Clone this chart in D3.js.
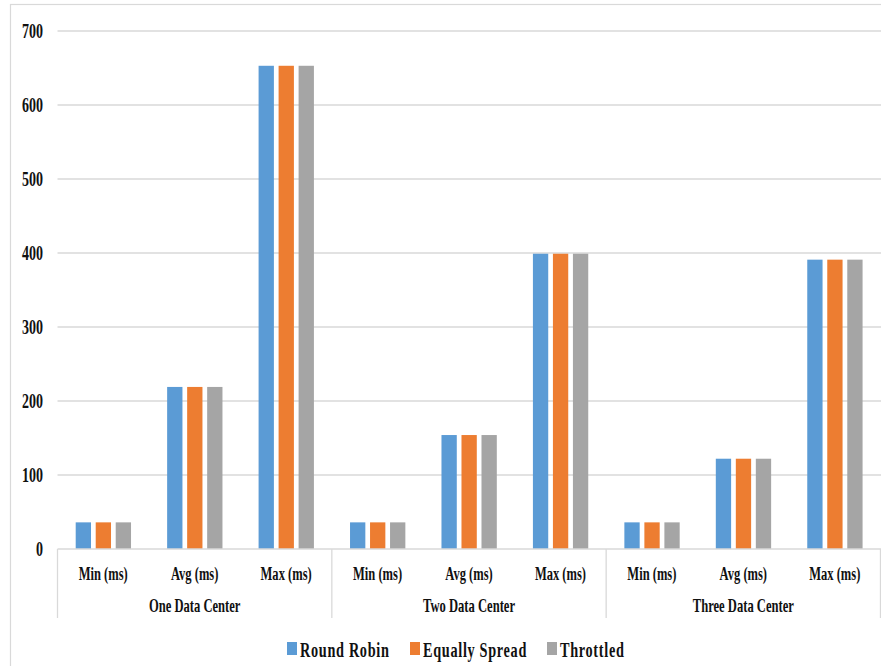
<!DOCTYPE html>
<html>
<head>
<meta charset="utf-8">
<script src="https://cdn.jsdelivr.net/npm/d3@7"></script>
<style>
  html, body { margin: 0; padding: 0; background: #fff; }
  svg { display: block; }
  text { font-family: "Liberation Serif", "Times New Roman", serif; font-weight: bold; fill: #111; }
</style>
</head>
<body>
<svg id="chart" width="881" height="666"></svg>
<script>
// Response time per data-center setup and broker policy
const groups = ["One Data Center", "Two Data Center", "Three Data Center"];
const metrics = ["Min (ms)", "Avg (ms)", "Max (ms)"];
const series = ["Round Robin", "Equally Spread", "Throttled"];
const colors = ["#5B9BD5", "#ED7D31", "#A5A5A5"];

// values listed group by group, metric by metric (Min, Avg, Max)
const roundRobin    = [36, 219, 653, 36, 154, 399, 36, 122, 391];
const equallySpread = [36, 219, 653, 36, 154, 399, 36, 122, 391];
const throttled     = [36, 219, 653, 36, 154, 399, 36, 122, 391];
const yTicks = [0, 100, 200, 300, 400, 500, 600, 700];

const seriesValues = [roundRobin, equallySpread, throttled];

const svg = d3.select("#chart");
const plotLeft = 57.5, plotRight = 880.5, plotTop = 31, plotBottom = 549;

// chart frame
svg.append("rect")
  .attr("x", 10.5).attr("y", 4.5)
  .attr("width", 1000).attr("height", 1000)
  .attr("fill", "none").attr("stroke", "#d9d9d9").attr("stroke-width", 1.2);

const slots = [];
groups.forEach(g => metrics.forEach(m => slots.push(g + "|" + m)));

const x = d3.scaleBand().domain(slots).range([plotLeft, plotRight]).paddingInner(0).paddingOuter(0);
const xInner = d3.scaleBand().domain(series)
  .range([x.bandwidth() * 0.199, x.bandwidth() * 0.804])
  .paddingInner(0.235).paddingOuter(0);
const y = d3.scaleLinear().domain([0, 700]).range([plotBottom, plotTop]);

// horizontal gridlines
svg.append("g").selectAll("line").data(yTicks.filter(t => t > 0)).join("line")
  .attr("x1", plotLeft).attr("x2", 881)
  .attr("y1", d => y(d)).attr("y2", d => y(d))
  .attr("stroke", "#d9d9d9").attr("stroke-width", 1.3);

// y tick labels, narrow serif
const yAxis = d3.axisLeft(y).tickValues(yTicks).tickSize(0).tickPadding(0);
const yg = svg.append("g").attr("transform", "translate(43,0)").call(yAxis);
yg.select(".domain").remove();
yg.selectAll("text")
  .attr("font-size", 20).attr("x", 0).attr("dy", "0.34em")
  .attr("text-anchor", "end")
  .attr("transform", "scale(0.7,1)")
  .style("font-family", "'Liberation Serif', serif").style("font-weight", "bold").attr("fill", "#111");

// bars
const data = [];
slots.forEach((s, i) => series.forEach((name, k) => data.push({ slot: s, name, k, v: seriesValues[k][i] })));

svg.append("g").selectAll("rect").data(data).join("rect")
  .attr("x", d => x(d.slot) + xInner(d.name))
  .attr("y", d => y(d.v))
  .attr("width", xInner.bandwidth())
  .attr("height", d => y(0) - y(d.v))
  .attr("fill", d => colors[d.k]);

// category axis baseline
svg.append("line")
  .attr("x1", plotLeft).attr("x2", 881).attr("y1", plotBottom).attr("y2", plotBottom)
  .attr("stroke", "#d9d9d9").attr("stroke-width", 1.5);

// group dividers
const dividerX = [plotLeft].concat(groups.map(g => x(g + "|" + metrics[2]) + x.bandwidth()));
svg.append("g").selectAll("line").data(dividerX).join("line")
  .attr("x1", d => d).attr("x2", d => d)
  .attr("y1", plotBottom).attr("y2", 618)
  .attr("stroke", "#d9d9d9").attr("stroke-width", 1.3);

// metric labels
svg.append("g").selectAll("text").data(slots).join("text")
  .attr("transform", d => `translate(${x(d) + x.bandwidth() / 2},580) scale(0.66,1)`)
  .attr("text-anchor", "middle").attr("font-size", 19)
  .text(d => d.split("|")[1]);

// group labels
svg.append("g").selectAll("text").data(groups).join("text")
  .attr("transform", g => {
    const cx = (x(g + "|" + metrics[0]) + x(g + "|" + metrics[2]) + x.bandwidth()) / 2;
    return `translate(${cx},611.5) scale(0.7,1)`;
  })
  .attr("text-anchor", "middle").attr("font-size", 18)
  .text(g => g);

// legend
const legendX = [287, 410, 547];
const lg = svg.append("g").selectAll("g").data(series).join("g")
  .attr("transform", (d, i) => `translate(${legendX[i]},0)`);
lg.append("rect")
  .attr("x", 0).attr("y", 642).attr("width", 10).attr("height", 13)
  .attr("fill", (d, i) => colors[i]);
lg.append("text")
  .attr("transform", "translate(13,657) scale(0.68,1)")
  .attr("font-size", 21).attr("letter-spacing", 1)
  .text(d => d);
</script>
</body>
</html>
